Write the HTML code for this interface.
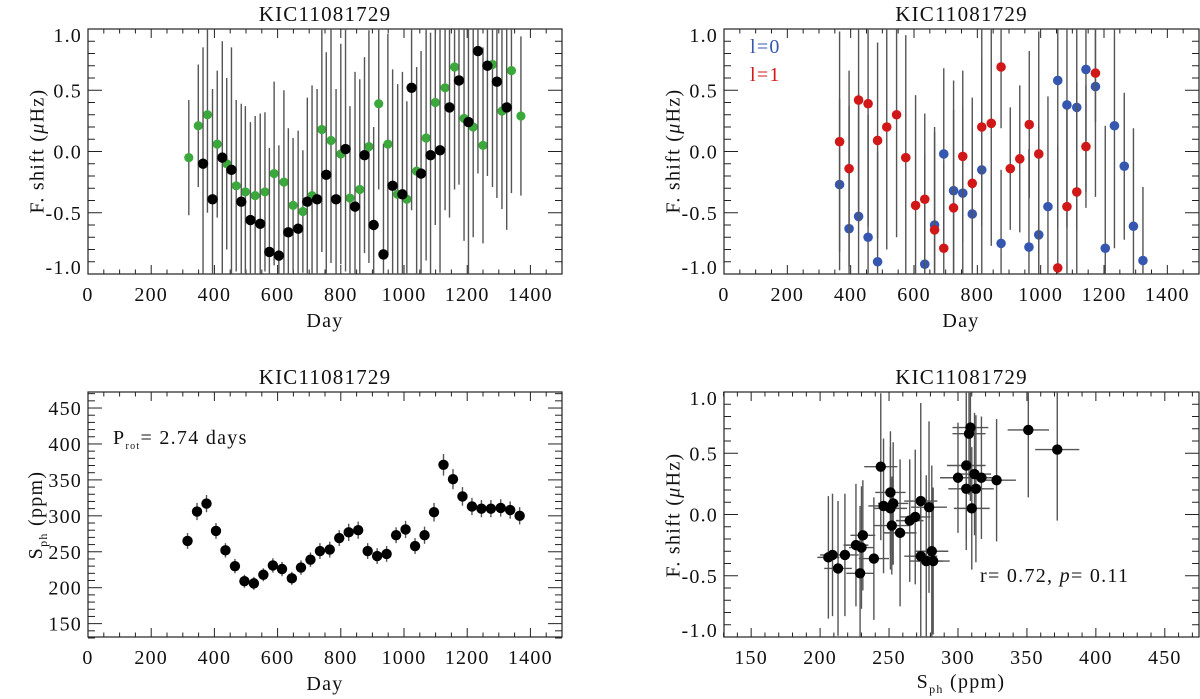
<!DOCTYPE html>
<html><head><meta charset="utf-8">
<style>
body{margin:0;background:#fff;}
svg{display:block;font-family:"Liberation Serif",serif;}
svg text{letter-spacing:1.2px;}
</style></head>
<body>
<svg id="fig" width="1200" height="699" viewBox="0 0 1200 699" xmlns="http://www.w3.org/2000/svg"></svg>
<script>
// ---- Panel 1 data: frequency shift vs day (green + black series)
const p1GreenDay=[319,349,378,409,439,469,498,529,560,589,620,649,680,709,740,769,800,829,860,889,920,949,980,1009,1040,1070,1099,1130,1160,1190,1219,1250,1280,1310,1340,1370];
const p1GreenVal=[-0.05,0.21,0.30,0.06,-0.10,-0.28,-0.33,-0.36,-0.33,-0.18,-0.25,-0.44,-0.49,-0.36,0.18,0.09,-0.02,-0.38,-0.31,0.04,0.39,0.06,-0.35,-0.39,-0.16,0.11,0.40,0.52,0.69,0.27,0.20,0.05,0.71,0.33,0.66,0.29];
const p1GreenErr=[0.47,0.50,0.80,0.60,0.70,0.70,0.70,0.65,0.65,0.75,0.75,0.55,0.50,0.90,1.0,1.0,0.90,0.75,0.90,0.95,0.70,0.90,0.90,0.80,0.85,1.0,1.0,1.0,1.0,1.0,0.90,0.80,1.0,0.80,1.0,0.65];
const p1BlackDay=[364,394,425,454,485,514,545,574,604,634,665,694,725,754,785,815,845,875,904,935,964,995,1024,1054,1084,1114,1144,1174,1204,1234,1264,1294,1325];
const p1BlackVal=[-0.10,-0.39,-0.05,-0.15,-0.41,-0.56,-0.59,-0.82,-0.85,-0.66,-0.63,-0.41,-0.39,-0.19,-0.39,0.02,-0.45,-0.03,-0.60,-0.84,-0.28,-0.35,0.52,-0.18,-0.03,0.01,0.36,0.58,0.24,0.82,0.70,0.57,0.36];
const p1BlackErr=[0.95,0.90,0.95,1.0,0.80,0.80,0.90,0.85,0.90,0.85,0.80,0.85,0.90,1.0,0.90,1.0,1.1,0.80,0.80,0.90,0.95,1.0,1.0,1.0,1.0,1.0,0.9,0.85,1.5,1.0,0.9,0.95,1.0];
// ---- Panel 2 data: l=0 (blue) and l=1 (red)
const p2BlueDay=[365,395,425,455,485,634,665,694,725,754,784,814,875,963,994,1023,1054,1083,1114,1143,1173,1204,1233,1264,1293,1323];
const p2BlueVal=[-0.27,-0.63,-0.53,-0.70,-0.90,-0.92,-0.60,-0.02,-0.32,-0.34,-0.51,-0.15,-0.75,-0.78,-0.68,-0.45,0.58,0.38,0.36,0.67,0.53,-0.79,0.21,-0.12,-0.61,-0.89];
const p2BlueErr=[0.7,1.0,1.0,1.0,0.9,0.9,0.8,0.7,0.9,0.7,0.7,0.9,0.6,0.8,0.9,0.9,1.2,1.0,1.0,1.0,0.9,1.0,1.0,0.6,0.8,0.6];
const p2RedDay=[365,395,425,455,485,514,545,574,605,634,665,694,725,754,784,814,844,875,904,934,964,994,1054,1083,1114,1143,1173];
const p2RedVal=[0.08,-0.14,0.42,0.39,0.09,0.20,0.30,-0.05,-0.44,-0.39,-0.64,-0.79,-0.46,-0.04,-0.26,0.20,0.23,0.69,-0.14,-0.06,0.22,-0.02,-0.95,-0.45,-0.33,0.04,0.64];
const p2RedErr=[0.9,0.8,1.0,1.0,0.8,1.0,1.0,1.0,0.9,0.7,0.8,0.7,0.8,0.7,0.7,0.8,1.0,0.5,0.5,0.6,0.6,1.0,1.0,0.8,0.9,0.5,0.4];
// ---- Panel 3 data: S_ph vs day
const p3Day=[315,345,375,405,435,465,495,525,555,585,614,645,674,704,734,765,795,825,855,885,915,945,975,1005,1035,1065,1095,1125,1155,1185,1215,1245,1275,1306,1336,1366];
const p3Sph=[265,306,317,279,252,230,209,206,218,231,226,213,228,239,251,253,269,277,280,251,244,247,273,281,258,273,305,371,351,327,313,310,310,311,308,300];
const p3Err=[11,12,12,11,10,10,9,9,9,10,10,9,10,10,11,11,11,12,12,11,11,11,11,12,11,12,13,15,14,13,12,12,12,12,12,12];
// ---- Panel 4 data: F. shift vs S_ph
const p4Sph=[206,209,213,218,226,230,229,231,239,244,246,251,251,253,252,258,265,269,273,273,277,279,281,282,300,306,306,308,309,310,312,313,317,328,351,372];
const p4Shift=[-0.35,-0.33,-0.44,-0.33,-0.25,-0.27,-0.48,-0.17,-0.36,0.39,0.07,0.18,0.05,0.09,-0.09,-0.15,-0.05,-0.02,0.11,-0.34,-0.38,0.06,-0.30,-0.38,0.30,0.40,0.21,0.66,0.71,0.05,0.33,0.21,0.30,0.28,0.69,0.53];
const p4XErr=[8,9,10,10,9,9,10,9,11,12,11,11,12,11,13,12,10,11,12,12,12,13,12,12,13,14,13,12,13,13,12,13,12,14,15,16];
const p4YErr=[0.5,0.5,0.55,0.5,0.5,0.5,0.55,0.45,0.5,0.6,0.55,0.5,0.5,0.5,0.4,0.6,0.5,0.55,0.8,0.7,0.7,0.7,0.7,0.6,0.45,0.6,0.5,0.5,0.6,0.5,0.5,0.6,0.5,0.5,0.55,0.58];

const NS="http://www.w3.org/2000/svg";
const svg=document.getElementById('fig');
function mk(tag,attrs,parent){const e=document.createElementNS(NS,tag);for(const k in attrs)e.setAttribute(k,attrs[k]);(parent||svg).appendChild(e);return e;}
function txt(s,attrs,parent){const e=mk('text',attrs,parent);e.textContent=s;return e;}

function panel(o){
  const g=mk('g',{});
  
  
  const sx=v=>o.x0+(v-o.xmin)/(o.xmax-o.xmin)*(o.x1-o.x0);
  const sy=v=>o.y1-(v-o.ymin)/(o.ymax-o.ymin)*(o.y1-o.y0);
  const cid='clip-'+o.name;
  const cp=mk('clipPath',{id:cid},g);mk('rect',{x:o.x0,y:o.y0,width:o.x1-o.x0,height:o.y1-o.y0},cp);
  const tg=mk('g',{stroke:'#222','stroke-width':1},g);
  
  
  for(let v=o.xmin;v<=o.xmax+1e-9;v+=o.xminor){
    const vv=Math.round(v/o.xminor)*o.xminor;const major=Math.abs(vv/o.xmajor-Math.round(vv/o.xmajor))<1e-6;
    const L=major?9:4.5,x=sx(vv);
    mk('line',{x1:x,x2:x,y1:o.y1,y2:o.y1-L},tg);mk('line',{x1:x,x2:x,y1:o.y0,y2:o.y0+L},tg);
  }
  for(let v=o.ymin;v<=o.ymax+1e-9;v+=o.yminor){
    const vv=Math.round(v/o.yminor)*o.yminor;const major=Math.abs(vv/o.ymajor-Math.round(vv/o.ymajor))<1e-6;
    const L=major?14:7,y=sy(vv);
    mk('line',{y1:y,y2:y,x1:o.x0,x2:o.x0+L},tg);mk('line',{y1:y,y2:y,x1:o.x1,x2:o.x1-L},tg);
  }
  mk('rect',{x:o.x0,y:o.y0,width:o.x1-o.x0,height:o.y1-o.y0,fill:'none',stroke:'#222','stroke-width':1.2},g);
  o.xticks.forEach(v=>{const t=txt(String(v),{x:sx(v),y:o.y1+27,'text-anchor':'middle','font-size':20,fill:'#111'},g);
    });
  o.yticks.forEach(v=>{let y=sy(v);y=Math.max(o.y0+6,Math.min(o.y1-7,y));
    const t=txt(o.yfmt(v),{x:o.x0-6,y:y+7,'text-anchor':'end','font-size':20,fill:'#111'},g);
    });
  const tt=txt('KIC11081729',{x:(o.x0+o.x1)/2,y:o.y0-8,'text-anchor':'middle','font-size':21,fill:'#111'},g);
  
  const dg=mk('g',{'clip-path':'url(#'+cid+')'},g);
  return {g,dg,sx,sy};
}
function drawSeries(P,xs,ys,yerr,xerr,color,r,name){
  const eg=mk('g',{stroke:'#555','stroke-width':1.4},P.dg);
  
  
  xs.forEach((x,i)=>{
    if(yerr) mk('line',{x1:P.sx(x),x2:P.sx(x),y1:P.sy(ys[i]-yerr[i]),y2:P.sy(ys[i]+yerr[i])},eg);
    if(xerr) mk('line',{y1:P.sy(ys[i]),y2:P.sy(ys[i]),x1:P.sx(x-xerr[i]),x2:P.sx(x+xerr[i])},eg);
  });
  const pg=mk('g',{fill:color},P.dg);
  
  
  xs.forEach((x,i)=>{const c=mk('circle',{cx:P.sx(x),cy:P.sy(ys[i]),r:r},pg);
    });
}
const f1=v=>v.toFixed(1);
const dayTicks=[0,200,400,600,800,1000,1200,1400];
const shiftTicks=[-1,-0.5,0,0.5,1];

const P1=panel({name:'panel-shift-vs-day',x0:88,x1:562,y0:29,y1:274,xmin:0,xmax:1500,ymin:-1,ymax:1,xmajor:200,xminor:50,ymajor:0.5,yminor:0.1,xticks:dayTicks,yticks:shiftTicks,yfmt:f1});
drawSeries(P1,p1GreenDay,p1GreenVal,p1GreenErr,null,'#3aa83a',4.6,'green-series');
drawSeries(P1,p1BlackDay,p1BlackVal,p1BlackErr,null,'#000',5.2,'black-series');
const P2=panel({name:'panel-shift-by-degree',x0:724,x1:1199,y0:29,y1:274,xmin:0,xmax:1500,ymin:-1,ymax:1,xmajor:200,xminor:50,ymajor:0.5,yminor:0.1,xticks:dayTicks,yticks:shiftTicks,yfmt:f1});
drawSeries(P2,p2BlueDay,p2BlueVal,p2BlueErr,null,'#3557b0',4.8,'l0-series');
drawSeries(P2,p2RedDay,p2RedVal,p2RedErr,null,'#d01818',4.8,'l1-series');
const P3=panel({name:'panel-sph-vs-day',x0:88,x1:562,y0:392,y1:637,xmin:0,xmax:1500,ymin:131.4,ymax:472.3,xmajor:200,xminor:50,ymajor:50,yminor:10,xticks:dayTicks,yticks:[150,200,250,300,350,400,450],yfmt:v=>String(v)});
drawSeries(P3,p3Day,p3Sph,p3Err,null,'#000',5.2,'sph-series');
const P4=panel({name:'panel-shift-vs-sph',x0:724,x1:1199,y0:392,y1:637,xmin:130.3,xmax:474.8,ymin:-1,ymax:1,xmajor:50,xminor:10,ymajor:0.5,yminor:0.1,xticks:[150,200,250,300,350,400,450],yticks:shiftTicks,yfmt:f1});
drawSeries(P4,p4Sph,p4Shift,p4YErr,p4XErr,'#000',5.2,'scatter-series');
</script>
<div style="position:absolute;left:0;top:0;width:1200px;height:699px;pointer-events:none;font-family:'Liberation Serif',serif;color:#111;letter-spacing:1.3px;">
  <div style="position:absolute;left:38px;top:151px;transform:translate(-50%,-50%) rotate(-90deg);font-size:20px;white-space:nowrap;">F. shift (<i>μ</i>Hz)</div>
  <div style="position:absolute;left:325px;top:310px;transform:translateX(-50%);font-size:20px;">Day</div>
  <div style="position:absolute;left:674px;top:151px;transform:translate(-50%,-50%) rotate(-90deg);font-size:20px;white-space:nowrap;">F. shift (<i>μ</i>Hz)</div>
  <div style="position:absolute;left:961px;top:310px;transform:translateX(-50%);font-size:20px;">Day</div>
  <div style="position:absolute;left:750px;top:36px;font-size:20px;color:#3557b0;">l=0</div>
  <div style="position:absolute;left:750px;top:64px;font-size:20px;color:#d01818;">l=1</div>
  <div style="position:absolute;left:38px;top:515px;transform:translate(-50%,-50%) rotate(-90deg);font-size:20px;white-space:nowrap;">S<sub style="font-size:12px">ph</sub> (ppm)</div>
  <div style="position:absolute;left:325px;top:673px;transform:translateX(-50%);font-size:20px;">Day</div>
  <div style="position:absolute;left:113px;top:427px;font-size:20px;white-space:nowrap;">P<sub style="font-size:10px">rot</sub>= 2.74 days</div>
  <div style="position:absolute;left:674px;top:515px;transform:translate(-50%,-50%) rotate(-90deg);font-size:20px;white-space:nowrap;">F. shift (<i>μ</i>Hz)</div>
  <div style="position:absolute;left:961px;top:671px;transform:translateX(-50%);font-size:20px;white-space:nowrap;">S<sub style="font-size:12px">ph</sub> (ppm)</div>
  <div style="position:absolute;left:980px;top:565px;font-size:20px;white-space:nowrap;">r= 0.72, <i>p</i>= 0.11</div>
</div>
</body></html>
